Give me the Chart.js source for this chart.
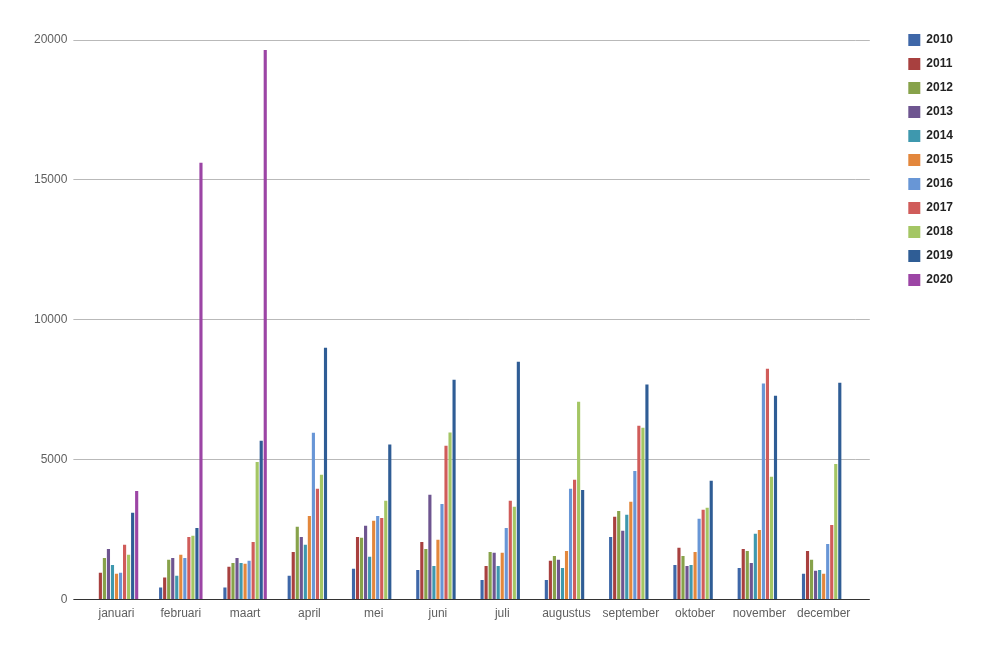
<!DOCTYPE html>
<html>
<head>
<meta charset="utf-8">
<script src="https://cdn.jsdelivr.net/npm/chart.js@4"></script>
<style>
  html, body { margin: 0; padding: 0; background: #fff; }
  #wrap { width: 995px; height: 652px; }
</style>
</head>
<body>
<div id="wrap"><canvas id="monthChart" width="995" height="652"></canvas></div>
<script>
const months = ["januari", "februari", "maart", "april", "mei", "juni", "juli", "augustus", "september", "oktober", "november", "december"];
const years = ["2010", "2011", "2012", "2013", "2014", "2015", "2016", "2017", "2018", "2019", "2020"];
const colors = ["#3e67a8", "#a8403f", "#87a24a", "#6e5590", "#3e98ae", "#e3873c", "#6896d6", "#d05c5a", "#a4c664", "#2f5d95", "#9c45a5"];
const yTicks = [0, 5000, 10000, 15000, 20000];

// one array per year, jan..dec
const y2010 = [null, 430, 430, 850, 1100, 1060, 700, 700, 2240, 1240, 1130, 920];
const y2011 = [960, 790, 1170, 1700, 2240, 2060, 1200, 1390, 2960, 1850, 1810, 1740];
const y2012 = [1490, 1420, 1310, 2600, 2210, 1810, 1700, 1560, 3170, 1560, 1740, 1420];
const y2013 = [1810, 1490, 1490, 2240, 2640, 3750, 1670, 1420, 2460, 1200, 1310, 1030];
const y2014 = [1240, 850, 1310, 1960, 1530, 1200, 1200, 1130, 3030, 1240, 2350, 1060];
const y2015 = [920, 1600, 1280, 2990, 2820, 2140, 1670, 1740, 3500, 1700, 2490, 920];
const y2016 = [960, 1490, 1390, 5960, 2990, 3420, 2560, 3960, 4600, 2890, 7720, 1990];
const y2017 = [1960, 2240, 2060, 3960, 2920, 5500, 3530, 4280, 6210, 3210, 8250, 2670];
const y2018 = [1600, 2280, 4920, 4460, 3530, 5970, 3320, 7070, 6140, 3280, 4390, 4850];
const y2019 = [3100, 2560, 5680, 9000, 5540, 7860, 8500, 3920, 7690, 4250, 7290, 7750];
const y2020 = [3880, 15610, 19640, null, null, null, null, null, null, null, null, null];
const series = [y2010, y2011, y2012, y2013, y2014, y2015, y2016, y2017, y2018, y2019, y2020];

const gridColor = (ctx) => (ctx.tick && ctx.tick.value === 0 ? "#333333" : "#b9b9b9");

// nudge the legend to the right and up, like the original layout
const legendShift = {
  id: "legendShift",
  afterLayout(chart) {
    const lg = chart.legend;
    if (lg) {
      lg.left += 26.5;
      lg.right += 26.5;
      lg.top -= 18;
      lg.bottom -= 18;
    }
  }
};

new Chart(document.getElementById("monthChart"), {
  type: "bar",
  data: {
    labels: months,
    datasets: years.map((yr, i) => ({
      label: yr,
      data: series[i],
      backgroundColor: colors[i],
      borderWidth: 0,
      barPercentage: 0.78,
      categoryPercentage: 0.69
    }))
  },
  options: {
    responsive: false,
    animation: false,
    layout: { padding: { top: 40, left: 28, right: 58.5, bottom: 24 } },
    plugins: {
      legend: {
        position: "right",
        align: "start",
        labels: {
          boxWidth: 12,
          boxHeight: 12,
          padding: 12,
          color: "#222222",
          font: { family: "'Liberation Sans', Arial, sans-serif", size: 12, weight: "bold" }
        }
      },
      tooltip: { enabled: false }
    },
    scales: {
      x: {
        grid: { display: false, drawTicks: false },
        border: { display: true, color: "#333333", width: 1 },
        ticks: {
          padding: 7,
          color: "#5f5f5f",
          font: { family: "'Liberation Sans', Arial, sans-serif", size: 12 }
        }
      },
      y: {
        min: 0,
        max: 20000,
        afterBuildTicks: (axis) => { axis.ticks = yTicks.map(v => ({ value: v })); },
        grid: { color: gridColor, tickColor: gridColor, tickLength: 11, lineWidth: 1 },
        border: { display: false },
        ticks: {
          padding: 6,
          color: "#5f5f5f",
          font: { family: "'Liberation Sans', Arial, sans-serif", size: 12 },
          callback: (v) => String(v)
        }
      },
      yRight: {
        position: "right",
        min: 0,
        max: 20000,
        afterBuildTicks: (axis) => { axis.ticks = yTicks.map(v => ({ value: v })); },
        grid: { drawOnChartArea: false, color: gridColor, tickColor: gridColor, tickLength: 14 },
        border: { display: false },
        ticks: { display: false }
      }
    }
  },
  plugins: [legendShift]
});
</script>
</body>
</html>
